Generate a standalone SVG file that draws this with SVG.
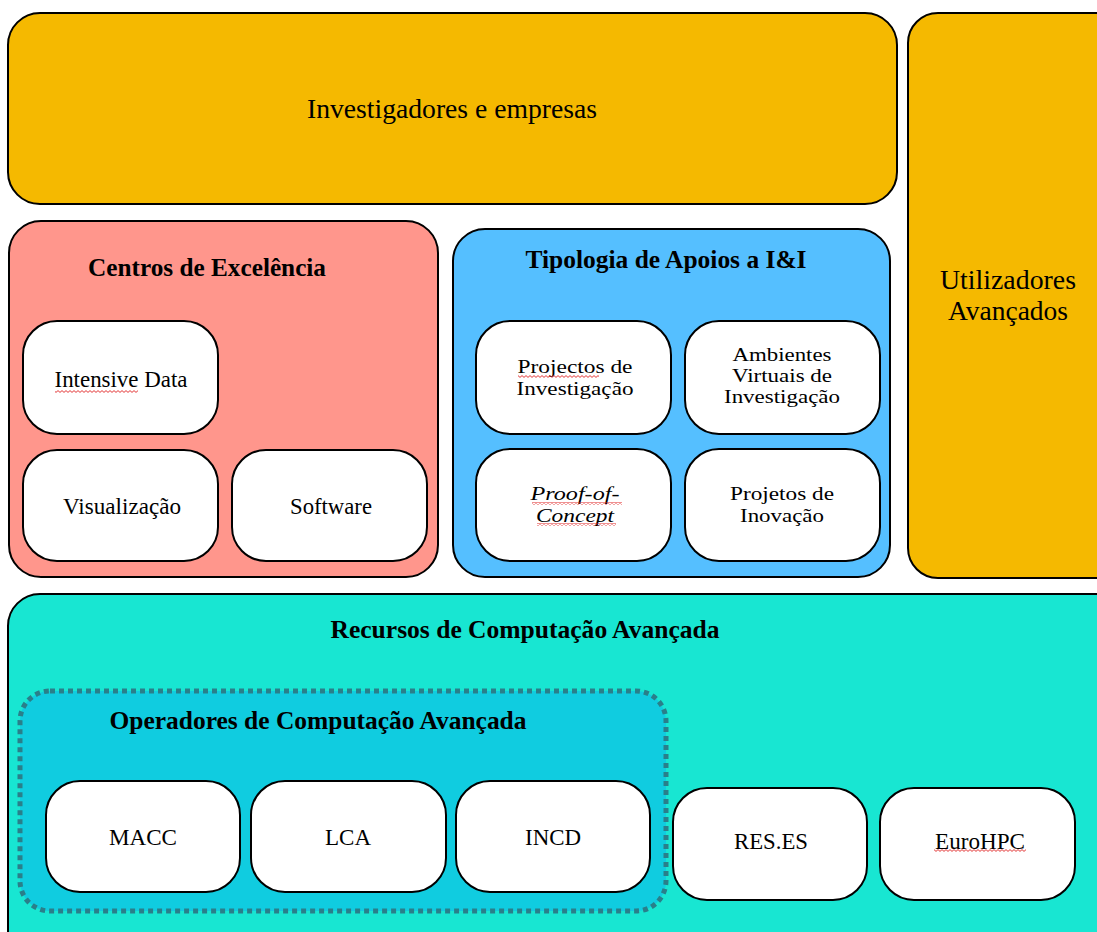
<svg xmlns="http://www.w3.org/2000/svg" width="1097" height="932" viewBox="0 0 1097 932">
<style>
.box{stroke:#000;stroke-width:2}
.sub{fill:#fff;stroke:#000;stroke-width:2}
.t{font-family:"Liberation Serif","DejaVu Serif",serif;fill:#000;text-anchor:middle}
.big{font-size:27px}
.hd{font-size:25px;font-weight:bold}
.sm{font-size:23px}
.sm2{font-size:18px}
</style>
<defs>
<pattern id="sq" width="4" height="3" patternUnits="userSpaceOnUse">
<path d="M0 2.4 L2 0.6 L4 2.4" stroke="#e02020" stroke-width="0.9" fill="none"/>
</pattern>
</defs>
<rect width="1097" height="932" fill="#fff"/>

<g id="investigadores">
<rect class="box" x="8" y="13" width="889" height="191" rx="32" fill="#F5B900"/>
<text class="t big" x="452" y="118" textLength="290" lengthAdjust="spacingAndGlyphs">Investigadores e empresas</text>
</g>

<g id="utilizadores">
<rect class="box" x="908" y="13" width="220" height="565" rx="30" fill="#F5B900"/>
<text class="t big" x="1008" y="289" textLength="136" lengthAdjust="spacingAndGlyphs">Utilizadores</text>
<text class="t big" x="1008" y="320" textLength="120" lengthAdjust="spacingAndGlyphs">Avançados</text>
</g>

<g id="centros">
<rect class="box" x="9" y="221" width="429" height="356" rx="32" fill="#FF968C"/>
<text class="t hd" x="207" y="276" textLength="238" lengthAdjust="spacingAndGlyphs">Centros de Excelência</text>
<g id="intensive">
<rect class="sub" x="23" y="321" width="195" height="113" rx="34"/>
<text class="t sm" x="121" y="387" textLength="133" lengthAdjust="spacingAndGlyphs">Intensive Data</text>
<rect x="55" y="390" width="83" height="3" fill="url(#sq)"/>
</g>
<g id="visualizacao">
<rect class="sub" x="23" y="450" width="195" height="111" rx="34"/>
<text class="t sm" x="122" y="514" textLength="118" lengthAdjust="spacingAndGlyphs">Visualização</text>
</g>
<g id="software">
<rect class="sub" x="232" y="450" width="195" height="111" rx="34"/>
<text class="t sm" x="331" y="514" textLength="82" lengthAdjust="spacingAndGlyphs">Software</text>
</g>
</g>

<g id="tipologia">
<rect class="box" x="453" y="229" width="437" height="348" rx="32" fill="#55BFFF"/>
<text class="t hd" x="666" y="268" textLength="281" lengthAdjust="spacingAndGlyphs">Tipologia de Apoios a I&amp;I</text>
<g id="projectos">
<rect class="sub" x="476" y="321" width="195" height="113" rx="34"/>
<text class="t sm2" x="575" y="373" textLength="115" lengthAdjust="spacingAndGlyphs">Projectos de</text>
<text class="t sm2" x="575" y="395" textLength="117" lengthAdjust="spacingAndGlyphs">Investigação</text>
<rect x="518" y="375" width="81" height="3" fill="url(#sq)"/>
</g>
<g id="ambientes">
<rect class="sub" x="685" y="321" width="195" height="113" rx="34"/>
<text class="t sm2" x="782" y="361" textLength="99" lengthAdjust="spacingAndGlyphs">Ambientes</text>
<text class="t sm2" x="782" y="382" textLength="100" lengthAdjust="spacingAndGlyphs">Virtuais de</text>
<text class="t sm2" x="782" y="403" textLength="116" lengthAdjust="spacingAndGlyphs">Investigação</text>
</g>
<g id="proof">
<rect class="sub" x="476" y="449" width="195" height="112" rx="34"/>
<text class="t sm2" x="575" y="500" font-style="italic" textLength="89" lengthAdjust="spacingAndGlyphs">Proof-of-</text>
<text class="t sm2" x="575" y="522" font-style="italic" textLength="78" lengthAdjust="spacingAndGlyphs">Concept</text>
<rect x="532" y="502" width="90" height="3" fill="url(#sq)"/>
<rect x="537" y="523" width="79" height="3" fill="url(#sq)"/>
</g>
<g id="inovacao">
<rect class="sub" x="685" y="449" width="195" height="112" rx="34"/>
<text class="t sm2" x="782" y="500" textLength="104" lengthAdjust="spacingAndGlyphs">Projetos de</text>
<text class="t sm2" x="782" y="522" textLength="84" lengthAdjust="spacingAndGlyphs">Inovação</text>
</g>
</g>

<g id="recursos">
<rect class="box" x="8" y="594" width="1120" height="370" rx="32" fill="#18E6D2"/>
<text class="t hd" x="525" y="638" textLength="389" lengthAdjust="spacingAndGlyphs">Recursos de Computação Avançada</text>
<g id="operadores">
<rect x="20" y="691" width="646" height="220" rx="30" fill="#10CCE0" stroke="#2A7F8A" stroke-width="5" stroke-dasharray="5 4"/>
<text class="t hd" x="318" y="729" textLength="417" lengthAdjust="spacingAndGlyphs">Operadores de Computação Avançada</text>
<g id="macc">
<rect class="sub" x="46" y="781" width="194" height="111" rx="34"/>
<text class="t sm" x="143" y="845" textLength="68" lengthAdjust="spacingAndGlyphs">MACC</text>
</g>
<g id="lca">
<rect class="sub" x="251" y="781" width="195" height="111" rx="34"/>
<text class="t sm" x="348" y="845" textLength="46" lengthAdjust="spacingAndGlyphs">LCA</text>
</g>
<g id="incd">
<rect class="sub" x="456" y="781" width="194" height="111" rx="34"/>
<text class="t sm" x="553" y="845" textLength="56" lengthAdjust="spacingAndGlyphs">INCD</text>
</g>
</g>
<g id="reses">
<rect class="sub" x="673" y="788" width="194" height="112" rx="34"/>
<text class="t sm" x="771" y="849" textLength="74" lengthAdjust="spacingAndGlyphs">RES.ES</text>
</g>
<g id="eurohpc">
<rect class="sub" x="880" y="788" width="195" height="112" rx="34"/>
<text class="t sm" x="980" y="849" textLength="90" lengthAdjust="spacingAndGlyphs">EuroHPC</text>
<rect x="934" y="849" width="92" height="3" fill="url(#sq)"/>
</g>
</g>

<g id="connectors"></g>
</svg>
